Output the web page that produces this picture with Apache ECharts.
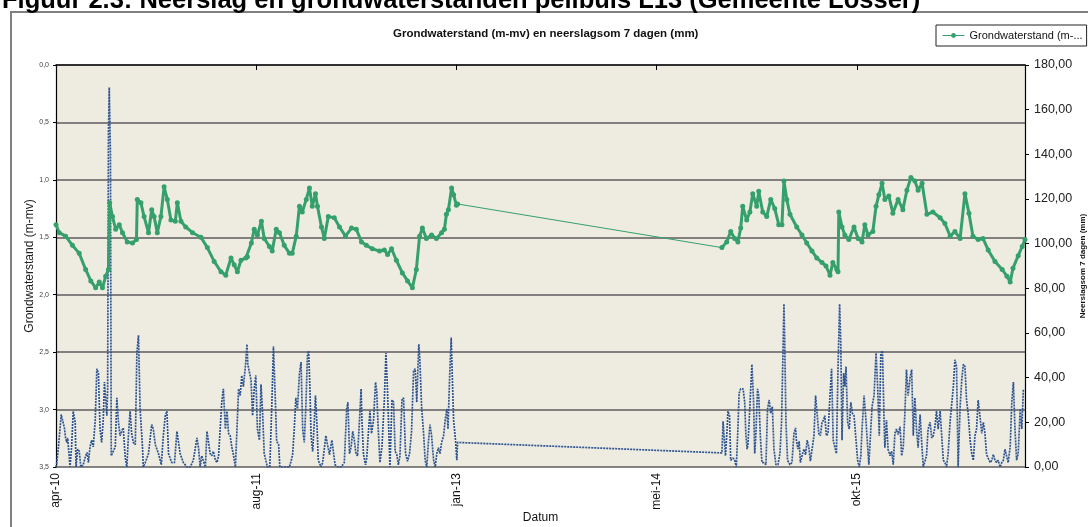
<!DOCTYPE html>
<html>
<head>
<meta charset="utf-8">
<script src="https://cdn.jsdelivr.net/npm/echarts@6/dist/echarts.min.js"></script>
<style>
html,body{margin:0;padding:0;background:#fff;overflow:hidden;}
#chart{width:1088px;height:527px;}
</style>
</head>
<body>
<div id="chart"></div>
<script>
// x values: days since 15 apr 2010
const xTickLabels = ['apr-10', 'aug-11', 'jan-13', 'mei-14', 'okt-15'];
const xStep = 500;
const xMax = 2420;

// Grondwaterstand (m-mv)
const gwDay = [0,8,24,41,58,74,87,99,108,116,124,131,134,141,149,158,166,178,191,201,203,212,220,231,239,245,253,262,270,278,287,298,303,312,324,341,362,378,395,412,424,437,445,453,462,474,478,488,495,503,513,520,533,540,550,558,570,583,590,600,608,615,625,633,640,648,653,663,670,680,695,708,723,738,750,763,775,790,808,820,828,838,850,865,878,890,900,908,915,925,938,950,963,970,975,980,988,993,1000,1003,
1663,1675,1685,1695,1703,1710,1715,1725,1733,1740,1750,1755,1765,1775,1785,1795,1805,1813,1818,1825,1833,1850,1863,1875,1888,1900,1913,1923,1933,1940,1950,1953,1955,1963,1970,1980,1993,2003,2013,2020,2028,2040,2048,2055,2063,2070,2080,2090,2103,2115,2125,2135,2145,2153,2163,2175,2190,2208,2220,2233,2245,2258,2270,2280,2290,2303,2315,2328,2345,2363,2375,2383,2390,2403,2413,2420];
const gwVal = [1.39,1.46,1.49,1.57,1.64,1.78,1.88,1.94,1.89,1.94,1.84,1.78,1.20,1.32,1.43,1.39,1.46,1.54,1.55,1.52,1.17,1.20,1.32,1.46,1.26,1.32,1.46,1.32,1.06,1.17,1.35,1.36,1.20,1.36,1.41,1.46,1.50,1.59,1.71,1.80,1.83,1.68,1.74,1.80,1.70,1.68,1.67,1.55,1.43,1.48,1.36,1.51,1.58,1.62,1.43,1.46,1.57,1.64,1.64,1.49,1.23,1.28,1.17,1.07,1.23,1.12,1.23,1.41,1.51,1.32,1.33,1.41,1.49,1.42,1.43,1.54,1.57,1.60,1.62,1.61,1.65,1.60,1.70,1.81,1.88,1.94,1.78,1.49,1.42,1.51,1.48,1.51,1.46,1.43,1.30,1.26,1.07,1.13,1.22,1.21,
1.59,1.54,1.45,1.51,1.54,1.42,1.23,1.35,1.28,1.12,1.23,1.10,1.28,1.32,1.17,1.25,1.39,1.39,1.01,1.17,1.30,1.41,1.48,1.55,1.62,1.68,1.72,1.75,1.83,1.72,1.78,1.80,1.28,1.41,1.48,1.52,1.41,1.51,1.54,1.39,1.48,1.45,1.23,1.13,1.03,1.17,1.14,1.29,1.17,1.26,1.09,0.98,1.01,1.09,1.03,1.30,1.28,1.33,1.38,1.49,1.45,1.51,1.12,1.29,1.49,1.52,1.51,1.61,1.71,1.78,1.84,1.89,1.77,1.66,1.58,1.52];

// Neerslagsom 7 dagen (mm)
const pDay = [0,2,6,10,13,16,21,24,27,29,33,35,39,43,48,50,54,58,62,68,74,78,81,85,89,93,98,102,106,110,114,118,121,124,127,129,131,133,136,138,143,148,152,156,160,164,168,173,177,181,185,189,193,198,202,206,210,213,216,218,223,231,239,243,248,256,263,268,273,277,281,289,296,302,306,310,314,318,327,335,343,352,356,360,364,373,377,381,385,389,393,398,402,406,410,414,418,423,427,431,435,439,443,448,452,456,460,464,468,473,477,479,
483,487,491,495,499,503,508,512,516,520,524,528,534,539,543,548,551,556,559,583,587,591,595,599,603,608,612,616,620,624,628,631,634,637,641,645,648,652,655,662,666,670,674,678,683,689,693,697,703,712,720,726,729,733,737,741,745,749,753,758,762,764,768,773,776,780,784,788,793,798,801,804,809,814,820,824,827,831,834,839,843,847,851,855,859,864,868,873,878,883,888,893,897,901,906,909,913,918,922,926,930,934,938,943,947,951,955,959,963,968,972,976,979,983,987,989,993,998,1001,1003,
1663,1666,1668,1672,1676,1678,1682,1685,1691,1695,1699,1703,1706,1710,1716,1720,1723,1726,1728,1731,1735,1738,1742,1745,1748,1752,1755,1759,1763,1768,1773,1777,1781,1785,1789,1793,1798,1803,1808,1812,1816,1818,1820,1823,1827,1833,1838,1843,1847,1849,1853,1856,1859,1863,1868,1872,1876,1880,1884,1888,1893,1897,1901,1905,1909,1913,1917,1920,1924,1928,1933,1937,1941,1945,1949,1953,1957,1960,1963,1967,1970,1973,1977,1981,1985,1989,1993,1998,2002,2006,2010,2013,2018,2022,2026,2030,2034,
2038,2043,2048,2052,2056,2060,2064,2068,2070,2074,2078,2083,2087,2091,2095,2099,2103,2108,2112,2116,2120,2124,2128,2133,2137,2141,2145,2149,2153,2158,2162,2166,2170,2174,2178,2183,2187,2191,2195,2199,2203,2208,2212,2216,2220,2224,2228,2233,2237,2241,2245,2249,2253,2258,2262,2266,2270,2274,2278,2283,2287,2291,2295,2299,2303,2308,2312,2316,2320,2324,2328,2333,2337,2341,2345,2349,2353,2358,2362,2366,2370,2374,2378,2383,2387,2391,2395,2399,2403,2408,2412,2416];
const pVal = [0,2,8.6,9,23.5,24,17.5,13,11,13,5,0,9,25,20,0,8,7,0,1,5,6.5,2,9,12,9,21,44,42,17,11,21,38,38,23,35,150,170,140,5,7,9,31,20,14,16,17.5,4,0,14.5,25,15,11,10,51,59,26,26,9,0,2,6,19,17,10,6,1,14,23,25,6,2,2,16,16,6,4,2,0,0,3,13,8.6,0,5,0,16,16,6,5,7,3,2,5,17,29,35,17,25,15,14,9,5.6,0,17,35,32,41,36,45,55,46,
46,39,23,35,41,17,12,37,24,6,5.6,0,0,28,54,29,11.5,10,0,0,2.6,5.6,17,31,26,42,47,17,11,27,50,52,36,14,7,20,32,18,3,0,2,8,14,10,5.6,12,12,1,0,0,2,26,29,6,9,16,12,6,5,21,35,21,5.6,1,4,15,25,15,21,38,34,20,2,9,30,51,39,17,0,30,29,7,5.6,1,5,30,31,6,2.6,6,16,43,44,29,55,47,27,15,3,0,11,19,14,3,0,6,8.6,6,11,14,21,26,17,40,58,45,21,11.5,3,11,
6.3,20.5,15,5,17,25,23,3,4,3,0,17,33,35,35,29,14,8,10,20,35,46,30,6,15,35,32,14,2,2,1,26,30,24,27,8,1,1,6,20,55,73,55,20,3,1,2,15,17.5,12,8,11.5,2,5,8,5.5,12,9,2.6,2,14,32,32,15,14,20,21,23,14,15,32,44,12,12,6,44,73,55,12,42,36,45,20,17,29,24,23,12,3,0,5,17,32,23,12,1,1,
27,32,51,36,14,51,52,21,8.6,21,8,5,7,1,15,17,14.5,18,5,9,24,43.6,32,40,43.6,14,31,17,8.6,23.5,11,0,0,5,17,20,13,14,18,25,17,25,14,3,2,0,6,20.5,20,36,48,45,0,27,39,46,45,30,24,12,6,3,14,17,30,22,15,20,15,5.6,5,2,3,5.6,3,2,3,0,2,3,8,5,2,9,29,38,17,3,6,26,17,35];

const gwName = 'Grondwaterstand (m-mv)';
const pName = 'Neerslagsom 7 dagen (mm)';

// split groundwater at the measurement gap (largest day step)
let gapIdx = 0, maxStep = 0;
for (let i = 1; i < gwDay.length; i++) {
  const s = gwDay[i] - gwDay[i - 1];
  if (s > maxStep) { maxStep = s; gapIdx = i; }
}
const gwData = [];
for (let i = 0; i < gwDay.length; i++) {
  if (i === gapIdx) gwData.push([(gwDay[i - 1] + gwDay[i]) / 2, '-']);
  gwData.push([gwDay[i], gwVal[i]]);
}
const gwGap = [[gwDay[gapIdx - 1], gwVal[gapIdx - 1]], [gwDay[gapIdx], gwVal[gapIdx]]];
const pData = pDay.map((d, i) => [d, pVal[i]]);

const green = '#35a06b';
const navy = '#2d5391';
const FONT = '"Liberation Sans", Arial, sans-serif';

const chart = echarts.init(document.getElementById('chart'), null, {renderer: 'canvas'});
chart.setOption({
  animation: false,
  backgroundColor: '#ffffff',
  textStyle: {fontFamily: FONT},
  graphic: [
    {type: 'rect', z: -10, shape: {x: 11, y: 12, width: 1200, height: 700},
     style: {fill: 'none', stroke: '#808080', lineWidth: 2}},
    {type: 'text', left: 2, top: -12, z: 10,
     style: {text: 'Figuur 2.3: Neerslag en grondwaterstanden peilbuis L13 (Gemeente Losser)',
             font: 'bold 25.5px ' + FONT, fill: '#000'}},
    {type: 'text', left: 393, top: 28, z: 10,
     style: {text: 'Grondwaterstand (m-mv) en neerslagsom 7 dagen (mm)',
             font: 'bold 11.5px ' + FONT, fill: '#111'}}
  ],
  legend: {
    data: [gwName],
    left: 936, top: 25,
    itemWidth: 22, itemHeight: 6, itemGap: 4,
    padding: [5, 4, 5, 6],
    borderColor: '#222', borderWidth: 1, borderRadius: 0,
    backgroundColor: '#fff',
    lineStyle: {width: 1},
    formatter: n => n.slice(0, 19) + '...',
    textStyle: {fontSize: 11, color: '#111', fontFamily: FONT}
  },
  grid: {left: 56, right: 63, top: 65, bottom: 60, show: true,
         backgroundColor: '#eeece1', borderWidth: 0, containLabel: false,
         outerBoundsMode: 'none'},
  xAxis: {
    type: 'value', min: 0, max: xMax, interval: xStep,
    name: 'Datum', nameLocation: 'middle', nameGap: 45, nameMoveOverlap: false,
    nameTextStyle: {fontSize: 12, color: '#111'},
    axisLine: {show: true, lineStyle: {color: '#000', width: 1.5}},
    axisTick: {show: true, length: 5, lineStyle: {color: '#000'}},
    splitLine: {show: false},
    axisLabel: {rotate: 90, fontSize: 12, color: '#111', margin: 6, showMaxLabel: false,
      formatter: v => (v % xStep === 0 && xTickLabels[v / xStep]) ? xTickLabels[v / xStep] : ''}
  },
  yAxis: [
    {
      type: 'value', inverse: true, min: 0, max: 3.5, interval: 0.5, position: 'left',
      name: gwName, nameLocation: 'middle', nameGap: 20, nameMoveOverlap: false,
      nameTextStyle: {fontSize: 12, color: '#222'},
      axisLine: {show: true, lineStyle: {color: '#000', width: 1.2}},
      axisTick: {show: true, length: 3, lineStyle: {color: '#000'}},
      splitLine: {show: true, lineStyle: {color: ['#b5b5b5','#5c5c5c','#5c5c5c','#5c5c5c','#5c5c5c','#5c5c5c','#5c5c5c','#5c5c5c'], width: 1.6}},
      axisLabel: {fontSize: 7, color: '#444', margin: 7,
        formatter: v => v.toFixed(1).replace('.', ',')}
    },
    {
      type: 'value', min: 0, max: 180, interval: 20, position: 'right',
      name: pName, nameLocation: 'middle', nameGap: 54, nameRotate: 90, nameMoveOverlap: false,
      nameTextStyle: {fontSize: 8, fontWeight: 'bold', color: '#111'},
      axisLine: {show: true, lineStyle: {color: '#000', width: 1.2}},
      axisTick: {show: true, length: 4, lineStyle: {color: '#000'}},
      splitLine: {show: false},
      axisLabel: {fontSize: 12.5, color: '#222', margin: 9,
        formatter: v => v.toFixed(2).replace('.', ',')}
    }
  ],
  series: [
    {
      name: pName, type: 'line', yAxisIndex: 1, data: pData,
      showSymbol: false, z: 2,
      lineStyle: {color: navy, width: 1.7, type: [2, 1]},
      itemStyle: {color: navy}
    },
    {
      name: gwName, type: 'line', yAxisIndex: 0, data: gwData,
      connectNulls: false, symbol: 'circle', symbolSize: 5, showSymbol: true, z: 4,
      lineStyle: {color: green, width: 3},
      itemStyle: {color: green}
    },
    {
      name: 'gw-verbinding', type: 'line', yAxisIndex: 0, data: gwGap,
      symbol: 'circle', symbolSize: 4, z: 3,
      lineStyle: {color: green, width: 1},
      itemStyle: {color: green}
    }
  ]
});
</script>
</body>
</html>
